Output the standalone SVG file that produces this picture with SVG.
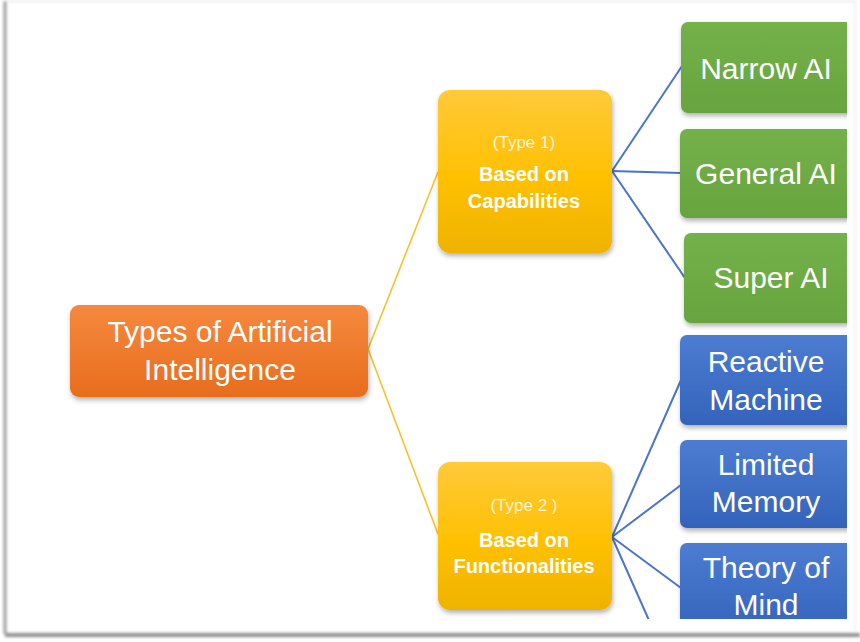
<svg xmlns="http://www.w3.org/2000/svg" width="860" height="642" viewBox="0 0 860 642">
  <style>
    .lbl { font-family: "Liberation Sans", Arial, sans-serif; fill: #ffffff; text-anchor: middle; }
    .big { font-size: 30px; }
    .mid { font-size: 20px; font-weight: bold; }
    .sm { font-size: 17px; fill: #fff4d2; }
    .yl { stroke: #f5c12e; stroke-width: 1.6; fill: none; }
    .bl { stroke: #4a74c9; stroke-width: 2; fill: none; }
  </style>
  <defs>
    <linearGradient id="gOrange" x1="0" y1="0" x2="0" y2="1">
      <stop offset="0" stop-color="#f5893f"/>
      <stop offset="1" stop-color="#e86d1d"/>
    </linearGradient>
    <linearGradient id="gYellow" x1="0" y1="0" x2="0" y2="1">
      <stop offset="0" stop-color="#ffca3a"/>
      <stop offset="0.55" stop-color="#ffc000"/>
      <stop offset="1" stop-color="#eeb300"/>
    </linearGradient>
    <linearGradient id="gGreen" x1="0" y1="0" x2="0" y2="1">
      <stop offset="0" stop-color="#74b14a"/>
      <stop offset="1" stop-color="#68a43e"/>
    </linearGradient>
    <linearGradient id="gBlue" x1="0" y1="0" x2="0" y2="1">
      <stop offset="0" stop-color="#4c7dd2"/>
      <stop offset="1" stop-color="#3463bb"/>
    </linearGradient>
    <filter id="sh" x="-10%" y="-10%" width="125%" height="130%">
      <feDropShadow dx="1" dy="3" stdDeviation="2.5" flood-color="#000" flood-opacity="0.3"/>
    </filter>
    <filter id="frameBlur" x="-5%" y="-5%" width="110%" height="110%">
      <feGaussianBlur stdDeviation="1.5"/>
    </filter>
    <clipPath id="view">
      <rect x="0" y="0" width="847" height="619"/>
    </clipPath>
  </defs>

  <!-- page background and frame -->
  <rect x="0" y="0" width="860" height="642" fill="#ffffff"/>
  <g id="frame" filter="url(#frameBlur)">
    <line x1="5" y1="1" x2="5" y2="634" stroke="#9a9a9a" stroke-width="3"/>
    <line x1="5" y1="1" x2="855" y2="1" stroke="#e6e6e6" stroke-width="1.5"/>
    <line x1="855" y1="1" x2="855" y2="634" stroke="#ececec" stroke-width="1.5"/>
    <line x1="5" y1="635" x2="860" y2="635" stroke="#8e8e8e" stroke-width="4"/>
  </g>

  <g clip-path="url(#view)">
    <g id="connectors">
      <line class="yl" x1="368" y1="349" x2="438" y2="172"/>
      <line class="yl" x1="368" y1="349" x2="438" y2="534"/>
      <line class="bl" x1="612" y1="171" x2="682" y2="66"/>
      <line class="bl" x1="612" y1="171" x2="681" y2="173"/>
      <line class="bl" x1="612" y1="171" x2="685" y2="278"/>
      <line class="bl" x1="612" y1="537" x2="681" y2="380"/>
      <line class="bl" x1="612" y1="537" x2="681" y2="485"/>
      <line class="bl" x1="612" y1="537" x2="681" y2="588"/>
      <line class="bl" x1="612" y1="537" x2="660" y2="645"/>
    </g>

    <g id="root">
      <rect x="70" y="305" width="298" height="92" rx="9" fill="url(#gOrange)" filter="url(#sh)"/>
      <text class="lbl big" x="220" y="342">Types of Artificial</text>
      <text class="lbl big" x="220" y="380">Intelligence</text>
    </g>

    <g id="type1">
      <rect x="438" y="90" width="174" height="163" rx="12" fill="url(#gYellow)" filter="url(#sh)"/>
      <text class="lbl sm" x="524" y="148">(Type 1)</text>
      <text class="lbl mid" x="524" y="181">Based on</text>
      <text class="lbl mid" x="524" y="208">Capabilities</text>
    </g>

    <g id="type2">
      <rect x="438" y="462" width="174" height="148" rx="12" fill="url(#gYellow)" filter="url(#sh)"/>
      <text class="lbl sm" x="524" y="511">(Type 2 )</text>
      <text class="lbl mid" x="524" y="547">Based on</text>
      <text class="lbl mid" x="524" y="573">Functionalities</text>
    </g>

    <g id="narrow-ai">
      <rect x="681" y="22" width="190" height="91" rx="7" fill="url(#gGreen)" filter="url(#sh)"/>
      <text class="lbl big" x="766" y="79">Narrow AI</text>
    </g>

    <g id="general-ai">
      <rect x="680" y="129" width="190" height="89" rx="7" fill="url(#gGreen)" filter="url(#sh)"/>
      <text class="lbl big" x="766" y="184">General AI</text>
    </g>

    <g id="super-ai">
      <rect x="684" y="233" width="190" height="90" rx="7" fill="url(#gGreen)" filter="url(#sh)"/>
      <text class="lbl big" x="771" y="288">Super AI</text>
    </g>

    <g id="reactive-machine">
      <rect x="680" y="335" width="190" height="90" rx="7" fill="url(#gBlue)" filter="url(#sh)"/>
      <text class="lbl big" x="766" y="372">Reactive</text>
      <text class="lbl big" x="766" y="410">Machine</text>
    </g>

    <g id="limited-memory">
      <rect x="680" y="440" width="190" height="88" rx="7" fill="url(#gBlue)" filter="url(#sh)"/>
      <text class="lbl big" x="766" y="475">Limited</text>
      <text class="lbl big" x="766" y="512">Memory</text>
    </g>

    <g id="theory-of-mind">
      <rect x="680" y="543" width="190" height="90" rx="7" fill="url(#gBlue)" filter="url(#sh)"/>
      <text class="lbl big" x="766" y="578">Theory of</text>
      <text class="lbl big" x="766" y="615">Mind</text>
    </g>
  </g>
</svg>
